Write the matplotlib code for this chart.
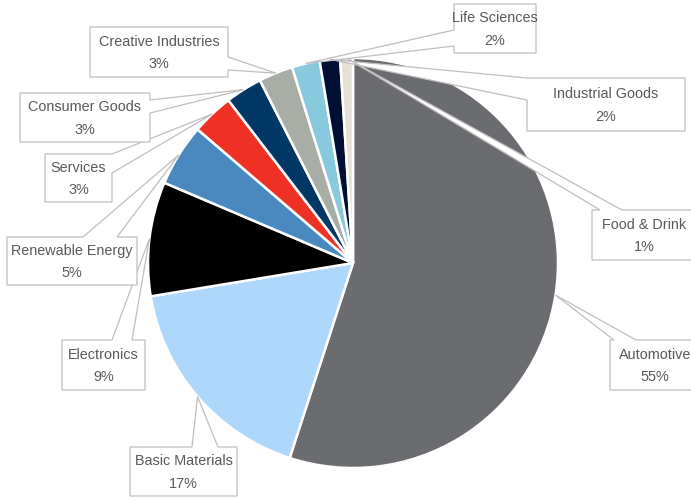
import numpy as np
import matplotlib.pyplot as plt
from matplotlib.patches import Polygon

# Sector shares (%), clockwise from 12 o'clock
sectors = ["Automotive", "Basic Materials", "Electronics", "Renewable Energy", "Services",
           "Consumer Goods", "Creative Industries", "Life Sciences", "Industrial Goods", "Food & Drink"]
shares = [55.0, 17.4, 9.0, 4.9, 3.3, 2.9, 2.7, 2.2, 1.6, 1.0]
colors = ["#6b6c70", "#add8fb", "#000000", "#4a89c0", "#ee3124",
          "#003764", "#a8ada5", "#88c9dd", "#000f33", "#e5e1d6"]

W, H = 691, 498
CX, CY, R = 353, H - 263, 205

# callout boxes in pixels from the top-left: x0, y0, x1, y1, side, base start, base end
callouts = {
    "Automotive":          (610, 340, 700, 390, "top", 614, 636),
    "Basic Materials":     (130, 447, 237, 496, "top", 192, 218),
    "Electronics":         (62, 340, 145, 390, "top", 112, 132),
    "Renewable Energy":    (7, 237, 137, 285, "top", 83, 117),
    "Services":            (45, 154, 112, 202, "right", 154, 173),
    "Consumer Goods":      (20, 93, 150, 142, "right", 100, 113),
    "Creative Industries": (90, 27, 228, 77, "right", 57, 70),
    "Life Sciences":       (454, 4, 536, 53, "left", 30, 46),
    "Industrial Goods":    (527, 78, 685, 131, "left", 78, 100),
    "Food & Drink":        (592, 210, 697, 260, "top", 600, 622),
}


def callout_shape(x0, y0, x1, y1, side, b1, b2, tip):
    # walk the box clockwise (screen sense) and splice the pointer into one edge
    pts = [(x0, y0)]
    if side == "top":
        pts += [(b1, y0), tip, (b2, y0)]
    pts.append((x1, y0))
    if side == "right":
        pts += [(x1, b1), tip, (x1, b2)]
    pts.append((x1, y1))
    pts.append((x0, y1))
    if side == "left":
        pts += [(x0, b2), tip, (x0, b1)]
    return [(x, H - y) for x, y in pts]


fig = plt.figure(figsize=(W / 100, H / 100), dpi=100)
ax = fig.add_axes([0, 0, 1, 1])

wedges, _ = ax.pie(shares, colors=colors, startangle=90, counterclock=False,
                   center=(CX, CY), radius=R, frame=True,
                   wedgeprops=dict(edgecolor="white", linewidth=1.8))
ax.set_xlim(0, W)
ax.set_ylim(0, H)
ax.set_aspect("equal")
ax.axis("off")

for name, share, w in zip(sectors, shares, wedges):
    x0, y0, x1, y1, side, b1, b2 = callouts[name]
    mid = np.deg2rad((w.theta1 + w.theta2) / 2)
    tip = (CX + R * np.cos(mid), H - (CY + R * np.sin(mid)))
    poly = Polygon(callout_shape(x0, y0, x1, y1, side, b1, b2, tip), closed=True,
                   facecolor="white", edgecolor="#bfbfbf", linewidth=0.9, zorder=3)
    ax.add_patch(poly)
    ax.text((x0 + x1) / 2, H - (y0 + y1) / 2 - 1, f"{name}\n{share:.0f}%",
            ha="center", va="center", fontsize=10.4, color="#595959",
            family="Liberation Sans", linespacing=1.75, zorder=4)

fig.savefig("out.png", dpi=100)
